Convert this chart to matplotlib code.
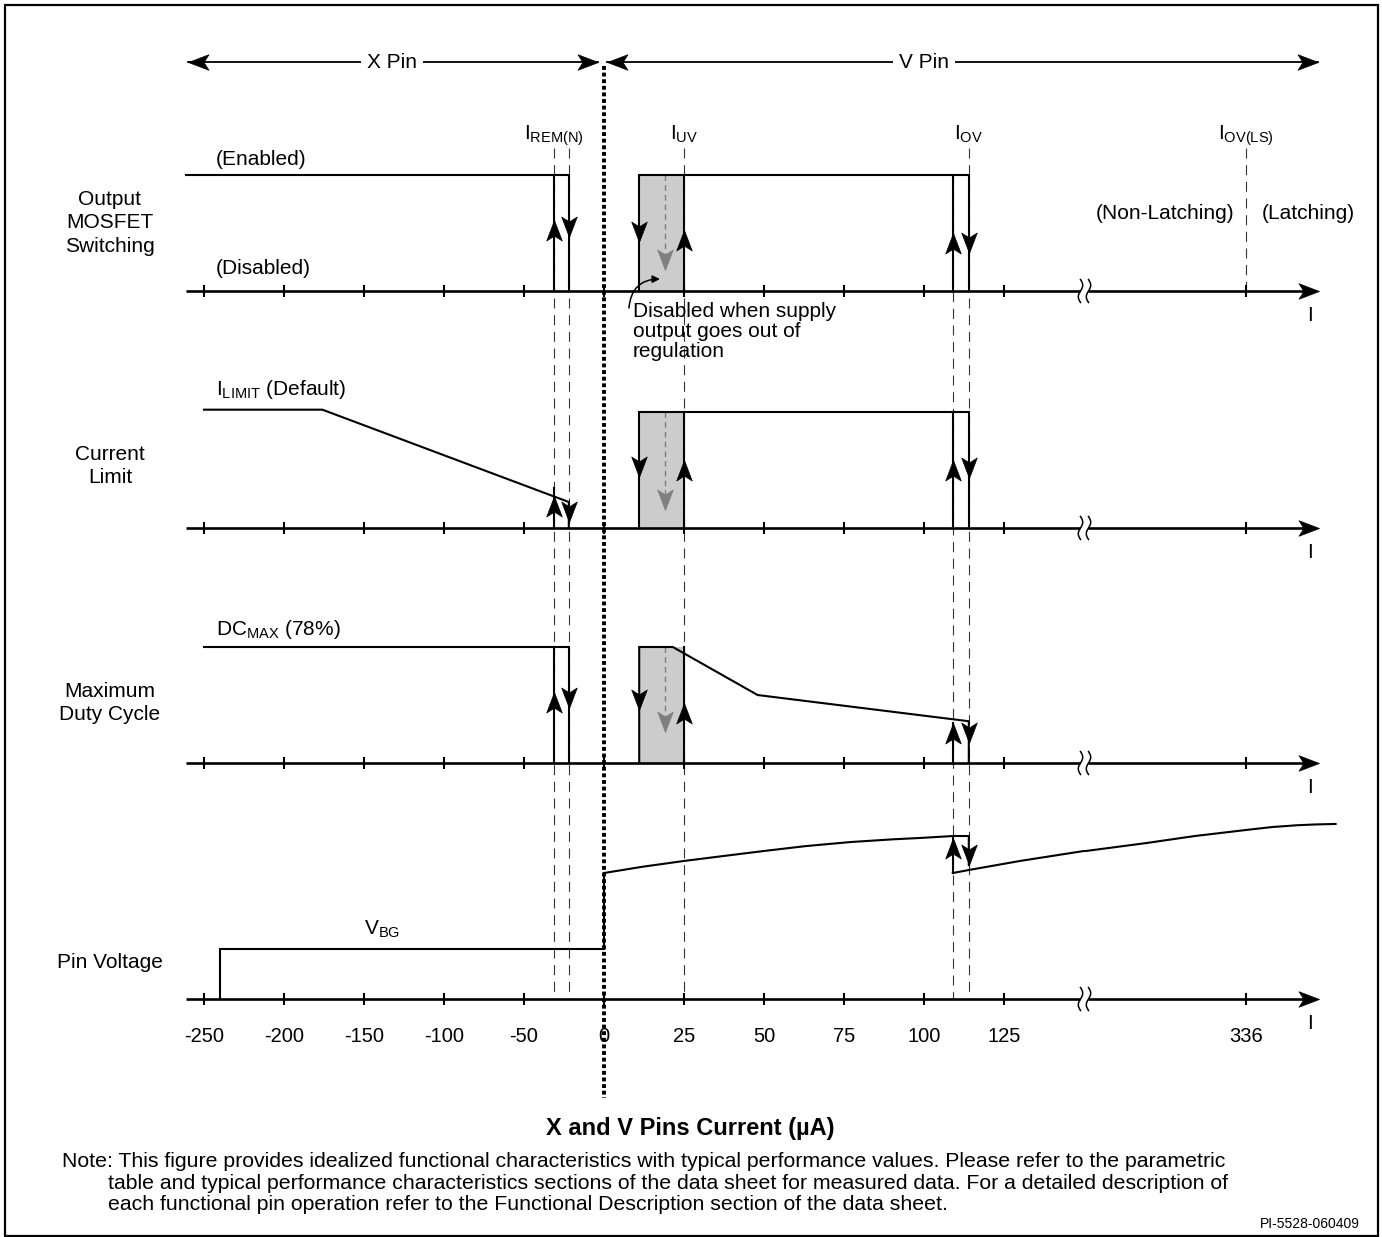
import numpy as np
import matplotlib
matplotlib.use('Agg')
import matplotlib.pyplot as plt
from matplotlib.path import Path
from matplotlib.patches import Rectangle
import matplotlib.transforms as mtrans

plt.rcParams['font.family'] = ['Liberation Sans', 'DejaVu Sans']
plt.rcParams['mathtext.fontset'] = 'custom'
plt.rcParams['mathtext.rm'] = 'Liberation Sans'
plt.rcParams['mathtext.it'] = 'Liberation Sans:italic'
plt.rcParams['mathtext.bf'] = 'Liberation Sans:bold'

# ------------------------------------------------------------------ data (x in uA)
tick_values = [-250, -200, -150, -100, -50, 0, 25, 50, 75, 100, 125, 336]
tick_labels = ['-250', '-200', '-150', '-100', '-50', '0', '25', '50', '75', '100', '125', '336']

i_rem_on, i_rem_off = -31, -22
i_uv_low, i_uv_mid, i_uv = 11, 19, 25
i_ov_on, i_ov = 109, 114
i_ov_ls = 336
axis_start, axis_end = -261, 358.8
break_at = 150

threshold_x = [i_rem_on, i_uv, i_ov, i_ov_ls]
threshold_labels = [r'$\mathregular{I_{REM(N)}}$', r'$\mathregular{I_{UV}}$',
                    r'$\mathregular{I_{OV}}$', r'$\mathregular{I_{OV(LS)}}$']

row_labels = ['Output\nMOSFET\nSwitching', 'Current\nLimit', 'Maximum\nDuty Cycle', 'Pin Voltage']

# Output MOSFET switching (level 1 = enabled)
sw_x_xpin = [-261, -22, -22]
sw_y_xpin = [1, 1, 0]
sw_x_vpin = [11, 11, 114, 114]
sw_y_vpin = [0, 1, 1, 0]

# Current limit
cl_x_xpin = [-250, -176, -22, -22]
cl_y_xpin = [1.02, 1.02, 0.224, 0]
cl_x_vpin = [11, 11, 114, 114]
cl_y_vpin = [0, 1, 1, 0]

# Maximum duty cycle
dc_x_xpin = [-250, -22, -22]
dc_y_xpin = [1, 1, 0]
dc_x_vpin = [11, 11, 21.5, 48, 114, 114]
dc_y_vpin = [0, 1, 1, 0.586, 0.36, 0]

# Pin voltage
pv_x_upper = [-240, -240, 0, 0, 12, 25, 38, 50, 63, 77, 90, 100, 109, 114, 114]
pv_y_upper = [0, 0.431, 0.431, 1.086, 1.14, 1.19, 1.235, 1.276, 1.318, 1.353, 1.376,
              1.390, 1.405, 1.405, 1.155]
pv_x_lower = [109, 114, 130, 150, 286, 305, 320, 336, 344, 352, 358, 364]
pv_y_lower = [1.086, 1.112, 1.19, 1.276, 1.276, 1.345, 1.405, 1.457, 1.482, 1.498,
              1.505, 1.509]

# rising transition lines: (x, from level, to level)
sw_rises = [(i_rem_on, 0, 1), (i_uv, 0, 1), (i_ov_on, 0, 1)]
cl_rises = [(i_rem_on, 0, 0.345), (i_uv, 0, 1), (i_ov_on, 0, 1)]
dc_rises = [(i_rem_on, 0, 1), (i_uv, 0, 1), (i_ov_on, 0, 0.345)]
pv_rises = [(i_ov_on, 1.086, 1.388)]

# arrowheads: (x, tip level, direction)
sw_heads = [(i_rem_on, 0.61, 'up'), (i_rem_off, 0.466, 'down'), (i_uv_low, 0.42, 'down'),
            (i_uv, 0.53, 'up'), (i_ov_on, 0.50, 'up'), (i_ov, 0.328, 'down')]
cl_heads = [(i_rem_on, 0.28, 'up'), (i_rem_off, 0.05, 'down'), (i_uv_low, 0.44, 'down'),
            (i_uv, 0.586, 'up'), (i_ov_on, 0.586, 'up'), (i_ov, 0.43, 'down')]
dc_heads = [(i_rem_on, 0.61, 'up'), (i_rem_off, 0.47, 'down'), (i_uv_low, 0.457, 'down'),
            (i_uv, 0.517, 'up'), (i_ov_on, 0.345, 'up'), (i_ov, 0.17, 'down')]
pv_heads = [(i_ov_on, 1.388, 'up'), (i_ov, 1.155, 'down')]
gray_tips = [0.18, 0.155, 0.27]

# ------------------------------------------------------------------ figure
W, Hfig = 1382, 1237
fig = plt.figure(figsize=(W / 100, Hfig / 100), dpi=100)
ax = fig.add_axes([0, 0, 1, 1])
ax.set_axis_off()

# broken current axis: X pin side 1.6 px/uA, V pin side 3.2 px/uA, gap 150..286 uA
anchor_ua = [-400.0, 0.0, 150.0, 286.0, 400.0]
anchor_px = [-36.0, 604.0, 1084.0, 1086.0, 1450.8]


def fwd(v):
    return np.interp(v, anchor_ua, anchor_px)


def inv(p):
    return np.interp(p, anchor_px, anchor_ua)


ax.set_xscale('function', functions=(fwd, inv))
ax.set_xlim(inv(0.0), inv(float(W)))
ax.set_ylim(Hfig, 0)
ax.set_autoscale_on(False)

PX = mtrans.Affine2D().scale(1 / W, -1 / Hfig).translate(0, 1) + fig.transFigure

PANEL_H = 116.0
bases = [291, 528, 763, 999]


def ptrans(k):
    return mtrans.Affine2D().scale(1, -PANEL_H).translate(0, bases[k]) + ax.transData


LW = 1.5
AXLW = 1.9
FS = 15


def head_path(direction):
    up = np.array([(0, 0), (0.38, -1), (0, -0.76), (-0.38, -1), (0, 0)], float)
    if direction == 'up':
        v = up
    elif direction == 'down':
        v = up * [1, -1]
    elif direction == 'right':
        v = up[:, ::-1].copy()
    else:
        v = up[:, ::-1] * [-1, 1]
    return Path(v, [Path.MOVETO, Path.LINETO, Path.LINETO, Path.LINETO, Path.CLOSEPOLY])


def arrowhead(x, y, direction, transform, color='black', size=29.5):
    ax.plot([x], [y], ls='none', marker=head_path(direction), ms=size, mfc=color,
            mec=color, mew=0.5, transform=transform, zorder=7)


# frame
ax.add_patch(Rectangle((5, 5), 1373, 1231, fill=False, lw=1.6, ec='black', transform=PX,
                       clip_on=False))

# top pin arrows
top_y = 62
ax.plot([-260, -3.75], [top_y, top_y], color='black', lw=1.3, zorder=3)
arrowhead(-260, top_y, 'left', ax.transData)
arrowhead(-3.75, top_y, 'right', ax.transData)
ax.plot([1, 358.5], [top_y, top_y], color='black', lw=1.3, zorder=3)
arrowhead(1, top_y, 'left', ax.transData)
arrowhead(358.5, top_y, 'right', ax.transData)
for tx, lab in [(-132.5, 'X Pin'), (100, 'V Pin')]:
    ax.text(tx, top_y, lab, ha='center', va='center', fontsize=FS, zorder=4,
            bbox=dict(boxstyle='square,pad=0.3', fc='white', ec='none'))

# dotted X/V boundary
ax.plot([0, 0], [66, 1098], color='black', lw=2.8, ls=(0, (1.0, 0.7)),
        solid_capstyle='butt', dash_capstyle='butt', zorder=8)

# dashed threshold guides
guide_top = 148
for gx in [i_rem_on, i_rem_off, i_uv, i_ov]:
    ax.plot([gx, gx], [guide_top, bases[3]], color='#333333', lw=0.8, ls=(0, (9, 6)), zorder=1)
ax.plot([i_ov_on, i_ov_on], [bases[0] - PANEL_H, bases[3]], color='#333333', lw=0.8,
        ls=(0, (9, 6)), zorder=1)
ax.plot([i_ov_ls, i_ov_ls], [guide_top, bases[0]], color='#333333', lw=0.8,
        ls=(0, (9, 6)), zorder=1)

# threshold labels
for tx, lab in zip(threshold_x, threshold_labels):
    ax.text(tx, 140, lab, ha='center', va='baseline', fontsize=FS)

# panels
for k in range(4):
    T = ptrans(k)
    ax.plot([axis_start, break_at - 1.3], [0, 0], color='black', lw=AXLW, transform=T,
            solid_capstyle='butt', zorder=4)
    ax.plot([286.6, axis_end - 2], [0, 0], color='black', lw=AXLW, transform=T,
            solid_capstyle='butt', zorder=4)
    arrowhead(axis_end, 0, 'right', T)
    ax.plot(tick_values, [0] * len(tick_values), ls='none', marker='|', ms=9, mew=1.5,
            color='black', transform=T, zorder=4)
    sq_t = mtrans.ScaledTranslation(break_at, 0, T)
    tq = np.linspace(-0.5, 0.5, 40)
    for off in (-0.035, 0.045):
        ax.plot(off + 0.022 * np.sin(2 * np.pi * tq), 0.23 * tq, color='black', lw=1.1,
                transform=fig.dpi_scale_trans + sq_t, zorder=5)
    ax.text(356, bases[k] + 30, 'I', ha='center', va='baseline', fontsize=FS)

# row labels
row_y = [223, 466, 703, 962]
for lab, yy in zip(row_labels, row_y):
    ax.text(110, yy, lab, ha='center', va='center', fontsize=FS, transform=PX,
            multialignment='center', linespacing=1.32)

signal_sets = [
    ([(sw_x_xpin, sw_y_xpin), (sw_x_vpin, sw_y_vpin)], sw_rises, sw_heads),
    ([(cl_x_xpin, cl_y_xpin), (cl_x_vpin, cl_y_vpin)], cl_rises, cl_heads),
    ([(dc_x_xpin, dc_y_xpin), (dc_x_vpin, dc_y_vpin)], dc_rises, dc_heads),
    ([(pv_x_upper, pv_y_upper), (pv_x_lower, pv_y_lower)], pv_rises, pv_heads),
]

for k, (curves, rises, heads) in enumerate(signal_sets):
    T = ptrans(k)
    if k < 3:
        ax.fill([i_uv_low, i_uv_low, i_uv, i_uv], [0, 1, 1, 0], color='#cccccc', lw=0,
                transform=T, zorder=1.5)
        ax.plot([i_uv_mid, i_uv_mid], [1, gray_tips[k] + 0.1], color='#7f7f7f', lw=1.0,
                ls=(0, (4, 3)), transform=T, zorder=2)
        arrowhead(i_uv_mid, gray_tips[k], 'down', T, color='#7f7f7f')
    for cx, cy in curves:
        ax.plot(cx, cy, color='black', lw=LW, transform=T, zorder=3,
                solid_joinstyle='miter')
    for rx, y0, y1 in rises:
        ax.plot([rx, rx], [y0, y1], color='black', lw=LW, transform=T, zorder=3)
    for hx, hy, hd in heads:
        arrowhead(hx, hy, hd, T)

# panel texts
ax.text(-242.5, 165, '(Enabled)', ha='left', va='baseline', fontsize=FS)
ax.text(-242.5, 274, '(Disabled)', ha='left', va='baseline', fontsize=FS)
ax.text(332.5, 219, '(Non-Latching)', ha='right', va='baseline', fontsize=FS)
ax.text(341, 219, '(Latching)', ha='left', va='baseline', fontsize=FS)
ax.text(-242.5, 395, r'$\mathregular{I_{LIMIT}}$ (Default)', ha='left', va='baseline', fontsize=FS)
ax.text(-242.5, 635, r'$\mathregular{DC_{MAX}}$ (78%)', ha='left', va='baseline', fontsize=FS)
ax.text(-139, 935, r'$\mathregular{V_{BG}}$', ha='center', va='baseline', fontsize=FS)

ax.text(9, 302, 'Disabled when supply\noutput goes out of\nregulation', ha='left',
        va='top', fontsize=FS, linespacing=1.08)
ax.annotate('', xy=(17.5, 279), xytext=(7.8, 308),
            arrowprops=dict(arrowstyle='-|>', connectionstyle='arc3,rad=-0.45', lw=1.1,
                            color='black', mutation_scale=11, shrinkA=0, shrinkB=0),
            zorder=6)

# tick labels
for tv, tl in zip(tick_values, tick_labels):
    ax.text(tv, 1042, tl, ha='center', va='baseline', fontsize=14.5)

# axis title and notes
ax.text(26.9, 1135, 'X and V Pins Current (µA)', ha='center', va='baseline', fontsize=17,
        fontweight='bold')
note_lines = [
    'Note: This figure provides idealized functional characteristics with typical performance values. Please refer to the parametric',
    'table and typical performance characteristics sections of the data sheet for measured data. For a detailed description of',
    'each functional pin operation refer to the Functional Description section of the data sheet.',
]
ax.text(62, 1167, note_lines[0], ha='left', va='baseline', fontsize=15.3, transform=PX)
ax.text(108, 1189, note_lines[1], ha='left', va='baseline', fontsize=15.3, transform=PX)
ax.text(108, 1210, note_lines[2], ha='left', va='baseline', fontsize=15.3, transform=PX)
ax.text(1360, 1228, 'PI-5528-060409', ha='right', va='baseline', fontsize=10, transform=PX)

fig.savefig('out.png', dpi=100)
